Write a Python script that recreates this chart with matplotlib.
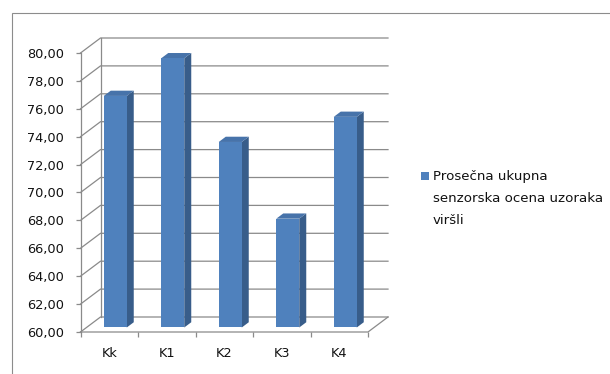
import matplotlib
matplotlib.use("Agg")
import numpy as np
import matplotlib.pyplot as plt
import matplotlib.transforms as mtransforms
from matplotlib.patches import Polygon, Rectangle
from matplotlib.lines import Line2D

# Data
categories = ["Kk", "K1", "K2", "K3", "K4"]
values = [76.6, 79.3, 73.3, 67.8, 75.1]
series_label = "Prosečna ukupna\nsenzorska ocena uzoraka\nviršli"
y_ticks = [60, 62, 64, 66, 68, 70, 72, 74, 76, 78, 80]

# Style
FRONT = "#4F81BD"
SIDE = "#385D8A"
TOP = "#4773AA"
GRID = "#8A8A8A"

W, H, DPI = 610, 374, 100
fig = plt.figure(figsize=(W / DPI, H / DPI), dpi=DPI)
fig.patch.set_facecolor("white")

# front plane of the pseudo-3D box
ax = fig.add_axes([80.5 / W, (H - 332) / H, (368 - 80.5) / W, (332 - 53) / H])
ax.set_xlim(-0.5, len(categories) - 0.5)
ax.set_ylim(y_ticks[0], y_ticks[-1])
ax.patch.set_visible(False)
for s in ax.spines.values():
    s.set_visible(False)

DEPTH = np.array([20.0, 15.0])  # pixel shift from front plane to back wall
BAR_D0, BAR_D1 = 0.3, 0.65      # bar depth (fraction of floor depth)


def to_px(x, y, d):
    return ax.transData.transform((x, y)) + d * DEPTH


def line(pts, **kw):
    xy = np.array([to_px(*p) for p in pts])
    ax.add_line(Line2D(xy[:, 0], xy[:, 1], transform=mtransforms.IdentityTransform(),
                       clip_on=False, color=GRID, lw=0.9, zorder=1, **kw))


def poly(pts, color):
    verts = [to_px(*p) for p in pts]
    ax.add_patch(Polygon(verts, closed=True, transform=mtransforms.IdentityTransform(),
                         clip_on=False, facecolor=color, edgecolor="none", zorder=3))


x0, x1 = ax.get_xlim()
y0 = y_ticks[0]

# walls and gridlines
for y in y_ticks:
    line([(x0, y, 0), (x0, y, 1), (x1, y, 1)])
line([(x0, y0, 1), (x0, y_ticks[-1], 1)])
line([(x0, y0, 0), (x0, y_ticks[-1], 0)])
line([(x0, y0, 0), (x1, y0, 0), (x1, y0, 1)])

# bars: front face with bar(), sides and tops as parallelograms
xs = np.arange(len(categories))
bw = 0.4
shift = mtransforms.ScaledTranslation(BAR_D0 * DEPTH[0] / DPI, BAR_D0 * DEPTH[1] / DPI,
                                      fig.dpi_scale_trans)
ax.bar(xs, [v - y0 for v in values], bottom=y0, width=bw, color=FRONT,
       transform=ax.transData + shift, zorder=4, clip_on=False)
for x, v in zip(xs, values):
    xr, xl = x + bw / 2, x - bw / 2
    poly([(xr, y0, BAR_D0), (xr, v, BAR_D0), (xr, v, BAR_D1), (xr, y0, BAR_D1)], SIDE)
    poly([(xl, v, BAR_D0), (xr, v, BAR_D0), (xr, v, BAR_D1), (xl, v, BAR_D1)], TOP)

ax.set_xlim(x0, x1)
ax.set_ylim(y_ticks[0], y_ticks[-1])

# ticks
ax.set_yticks(y_ticks)
ax.set_yticklabels([f"{t:.2f}".replace(".", ",") for t in y_ticks])
ax.tick_params(axis="y", length=3.6, width=0.9, color=GRID, pad=8.4,
               labelsize=9.3, labelcolor="#111111")
ax.set_xticks(xs)
ax.set_xticklabels(categories)
ax.set_xticks(np.arange(len(categories) + 1) - 0.5, minor=True)
ax.tick_params(axis="x", which="major", length=0, pad=11, labelsize=9.3,
               labelcolor="#111111")
ax.tick_params(axis="x", which="minor", length=3.6, width=0.9, color=GRID)

# legend (drawn by hand to keep the square on the first line)
fig.add_artist(Rectangle((421 / W, (H - 180) / H), 8 / W, 8 / H,
                         transform=fig.transFigure, facecolor=FRONT, edgecolor="none"))
fig.text(433 / W, (H - 170) / H, series_label, fontsize=9.6, color="#111111",
         va="top", ha="left", linespacing=1.9)

# chart frame
fig.add_artist(Rectangle((12 / W, -0.1), 1.2, (H - 13) / H + 0.1,
                         transform=fig.transFigure, fill=False,
                         edgecolor="#8C8C8C", lw=0.8))

fig.savefig("out.png", dpi=DPI)
